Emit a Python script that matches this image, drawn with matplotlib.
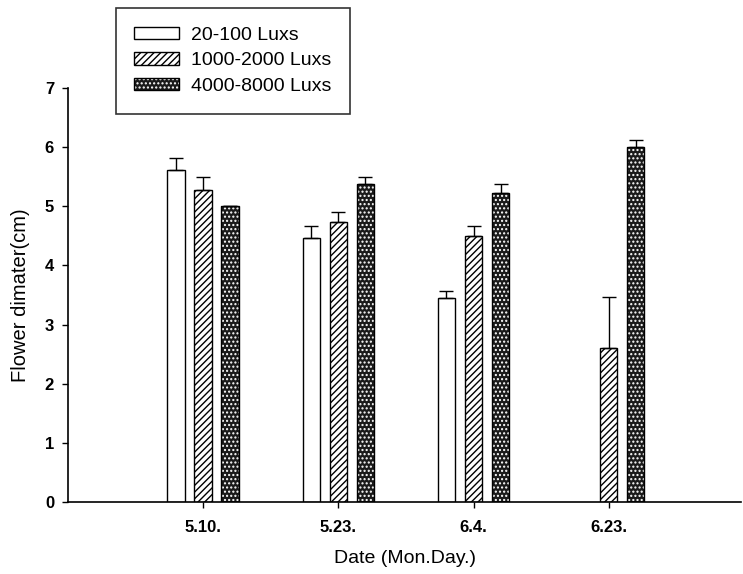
import numpy as np
import matplotlib.pyplot as plt

plt.rcParams['font.family'] = ['Liberation Sans', 'DejaVu Sans']
plt.rcParams['hatch.linewidth'] = 1.0

dates = ["5.10.", "5.23.", "6.4.", "6.23."]
series = ["20-100 Luxs", "1000-2000 Luxs", "4000-8000 Luxs"]
low = [5.62, 4.47, 3.45, 0.0]
low_err = [0.2, 0.2, 0.12, 0.0]
mid = [5.28, 4.73, 4.5, 2.6]
mid_err = [0.22, 0.17, 0.17, 0.87]
high = [5.0, 5.38, 5.22, 6.0]
high_err = [0.0, 0.12, 0.16, 0.12]

fig = plt.figure(figsize=(7.43, 5.74), dpi=100)
ax = fig.add_axes([0.0915, 0.1254, 0.906, 0.7213])

x = np.arange(1, len(dates) + 1)
w = 0.13
off = 0.2

def upper(err):
    return [np.zeros(len(err)), err]

# white bars
hb = [v > 0 for v in low]
ax.bar(x[hb] - off, np.array(low)[hb], w, color='white', edgecolor='black', lw=1,
       yerr=np.array(upper(low_err))[:, hb], capsize=5,
       error_kw=dict(elinewidth=1, capthick=1), zorder=2)
h1 = plt.Rectangle((0, 0), 1, 1, facecolor='white', edgecolor='black', lw=1)

# hatched bars
ax.bar(x, mid, w, color='white', edgecolor='black', hatch='/////', lw=1,
       yerr=upper(mid_err), capsize=5, error_kw=dict(elinewidth=1, capthick=1), zorder=2)
h2 = plt.Rectangle((0, 0), 1, 1, facecolor='white', edgecolor='black', hatch='/////', lw=1)

# dotted dark bars (white hatch, then black outline)
ax.bar(x + off, high, w, color='#1a1a1a', edgecolor='white', hatch='....', lw=0, zorder=2)
ax.bar(x + off, high, w, color='none', edgecolor='black', lw=1,
       yerr=upper(high_err), capsize=5, error_kw=dict(elinewidth=1, capthick=1), zorder=3)
h3a = plt.Rectangle((0, 0), 1, 1, facecolor='#1a1a1a', edgecolor='white', hatch='....', lw=0)
h3b = plt.Rectangle((0, 0), 1, 1, facecolor='none', edgecolor='black', lw=1)

ax.set_xlim(0, 4.98)
ax.set_ylim(0, 7)
ax.set_xticks(x)
ax.set_xticklabels(dates, fontsize=12, fontweight='bold')
ax.set_yticks(range(8))
ax.set_yticklabels([str(v) for v in range(8)], fontsize=12, fontweight='bold')
ax.tick_params(axis='y', length=4, width=1, pad=6)
ax.tick_params(axis='x', length=4, width=1, pad=9)
ax.spines['top'].set_visible(False)
ax.spines['right'].set_visible(False)
ax.spines['left'].set_linewidth(1.2)
ax.spines['bottom'].set_linewidth(1.2)

ax.set_xlabel("Date (Mon.Day.)", fontsize=14, labelpad=11)
ax.set_ylabel("Flower dimater(cm)", fontsize=14.5, labelpad=11)

leg = fig.legend([h1, h2, (h3a, h3b)], series, loc='upper left',
                 bbox_to_anchor=(0.156, 0.986), bbox_transform=fig.transFigure,
                 fontsize=14, frameon=True, fancybox=False, edgecolor='black',
                 handlelength=2.3, handleheight=0.6, borderpad=0.95,
                 labelspacing=0.45, handletextpad=0.6, borderaxespad=0)
leg.get_frame().set_linewidth(1.2)

fig.savefig("out.png", dpi=100)
